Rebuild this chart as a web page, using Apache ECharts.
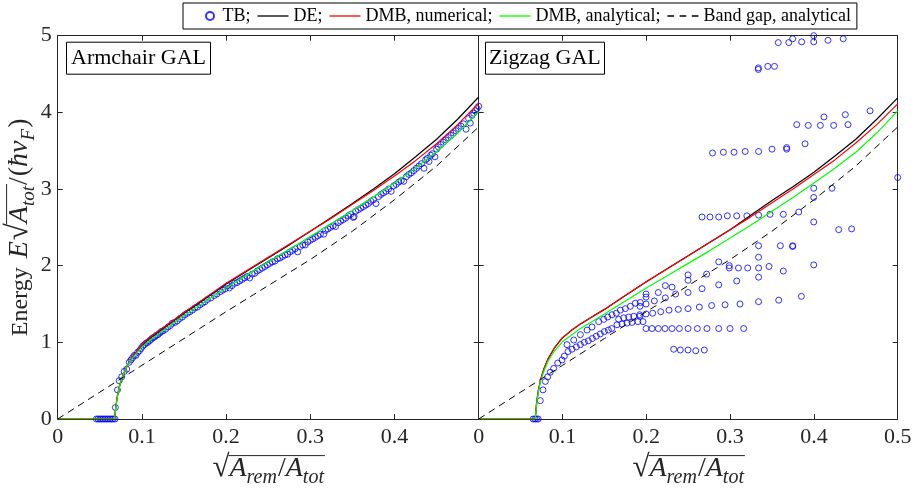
<!DOCTYPE html>
<html><head><meta charset="utf-8">
<script src="https://cdn.jsdelivr.net/npm/echarts@6/dist/echarts.min.js"></script>
<style>html,body{margin:0;padding:0;background:#fff}#c{width:918px;height:491px}</style>
</head><body><div id="c"></div>
<script>
// ---------- data ----------
const xTickLabels = ['0', '0.1', '0.2', '0.3', '0.4', '0.5'];
const yTickLabels = ['0', '1', '2', '3', '4', '5'];

const curveX = [0, 0.0675, 0.069, 0.071, 0.074, 0.078, 0.083, 0.09, 0.1, 0.11, 0.12, 0.135, 0.15, 0.175, 0.2, 0.225, 0.25, 0.275, 0.3, 0.325, 0.35, 0.375, 0.4, 0.425, 0.45, 0.475, 0.5];

// Armchair GAL
const armDE     = [0, 0, 0.15, 0.30, 0.45, 0.58, 0.70, 0.82, 0.96, 1.06, 1.14, 1.26, 1.38, 1.57, 1.76, 1.93, 2.10, 2.27, 2.45, 2.63, 2.81, 3.00, 3.20, 3.42, 3.65, 3.91, 4.20];
const armDMBnum = [0, 0, 0.17, 0.32, 0.46, 0.59, 0.71, 0.83, 0.97, 1.07, 1.15, 1.27, 1.39, 1.58, 1.77, 1.94, 2.11, 2.28, 2.45, 2.62, 2.80, 2.98, 3.17, 3.37, 3.59, 3.84, 4.12];
const armDMBana = [0, 0, 0.15, 0.30, 0.45, 0.58, 0.70, 0.81, 0.94, 1.03, 1.11, 1.23, 1.35, 1.53, 1.71, 1.88, 2.05, 2.21, 2.38, 2.55, 2.72, 2.90, 3.08, 3.27, 3.49, 3.73, 4.01];

// Zigzag GAL
const zigDE     = [0, 0, 0.20, 0.36, 0.52, 0.66, 0.79, 0.92, 1.06, 1.15, 1.23, 1.33, 1.43, 1.61, 1.79, 1.96, 2.13, 2.30, 2.47, 2.66, 2.85, 3.03, 3.22, 3.43, 3.65, 3.91, 4.19];
const zigDMBnum = [0, 0, 0.20, 0.36, 0.52, 0.66, 0.79, 0.92, 1.06, 1.15, 1.23, 1.33, 1.43, 1.61, 1.79, 1.96, 2.13, 2.30, 2.47, 2.64, 2.82, 3.00, 3.19, 3.38, 3.60, 3.84, 4.11];
const zigDMBana = [0, 0, 0.18, 0.34, 0.50, 0.63, 0.76, 0.88, 1.01, 1.09, 1.17, 1.27, 1.37, 1.54, 1.71, 1.87, 2.03, 2.19, 2.36, 2.53, 2.71, 2.89, 3.08, 3.27, 3.48, 3.73, 4.02];

// Band gap, analytical (same in both panels)
const gapX = [0, 0.05, 0.1, 0.15, 0.2, 0.25, 0.3, 0.35, 0.4, 0.45, 0.5];
const gapY = [0, 0.35, 0.70, 1.05, 1.40, 1.74, 2.08, 2.45, 2.86, 3.30, 3.81];

// TB points, armchair
const armTB = [
 [0.046,0],[0.048,0],[0.050,0],[0.052,0],[0.054,0],[0.056,0],[0.058,0],[0.060,0],[0.062,0],[0.064,0],[0.066,0],[0.068,0],
 [0.0685,0.15],[0.071,0.38],[0.073,0.50],[0.076,0.55],[0.079,0.62],[0.082,0.65],[0.085,0.74],[0.087,0.77],[0.089,0.80],[0.091,0.83],
 [0.093,0.83],[0.095,0.87],[0.097,0.89],[0.099,0.92],[0.101,0.95],[0.103,0.97],[0.105,0.99],[0.107,1.00],[0.109,1.02],[0.111,1.04],
 [0.113,1.06],[0.115,1.07],[0.117,1.09],[0.119,1.10],[0.121,1.12],[0.123,1.14],[0.125,1.15],[0.128,1.17],[0.131,1.20],[0.134,1.22],
 [0.136,1.25],[0.139,1.26],[0.142,1.28],[0.145,1.31],[0.148,1.33],[0.151,1.36],[0.154,1.38],[0.157,1.40],[0.160,1.42],[0.163,1.45],
 [0.166,1.46],[0.169,1.49],[0.172,1.51],[0.175,1.53],[0.178,1.56],[0.182,1.58],[0.186,1.61],[0.189,1.63],[0.193,1.66],[0.196,1.68],
 [0.199,1.70],[0.202,1.74],[0.204,1.71],[0.207,1.74],[0.210,1.77],[0.213,1.78],[0.216,1.80],[0.219,1.82],[0.222,1.84],[0.225,1.86],
 [0.228,1.84],[0.231,1.89],[0.234,1.90],[0.237,1.93],[0.240,1.95],[0.243,1.97],[0.246,1.99],[0.249,2.01],[0.252,2.03],[0.255,2.05],
 [0.258,2.06],[0.261,2.09],[0.264,2.10],[0.267,2.12],[0.270,2.14],[0.273,2.15],[0.276,2.18],[0.279,2.20],[0.282,2.22],[0.285,2.18],
 [0.288,2.25],[0.291,2.27],[0.294,2.27],[0.297,2.31],[0.300,2.33],[0.303,2.35],[0.306,2.37],[0.309,2.39],[0.312,2.41],[0.316,2.41],
 [0.318,2.46],[0.321,2.48],[0.324,2.50],[0.327,2.52],[0.330,2.51],[0.333,2.56],[0.336,2.58],[0.339,2.60],[0.342,2.62],[0.345,2.65],
 [0.348,2.67],[0.351,2.63],[0.352,2.64],[0.354,2.71],[0.357,2.73],[0.360,2.75],[0.363,2.77],[0.366,2.79],[0.369,2.81],[0.372,2.84],
 [0.375,2.86],[0.378,2.81],[0.381,2.90],[0.384,2.93],[0.387,2.95],[0.390,2.97],[0.393,3.00],[0.396,2.97],[0.399,3.04],[0.402,3.06],
 [0.405,3.09],[0.408,3.11],[0.411,3.10],[0.414,3.16],[0.417,3.19],[0.420,3.21],[0.423,3.24],[0.426,3.27],[0.429,3.30],[0.432,3.33],
 [0.435,3.27],[0.437,3.38],[0.439,3.40],[0.441,3.36],[0.443,3.44],[0.445,3.46],[0.448,3.42],[0.450,3.52],[0.452,3.55],[0.455,3.58],
 [0.458,3.61],[0.461,3.64],[0.464,3.67],[0.467,3.70],[0.470,3.73],[0.473,3.76],[0.476,3.79],[0.479,3.82],[0.482,3.85],[0.485,3.78],
 [0.488,3.92],[0.490,3.86],[0.492,3.96],[0.494,3.99],[0.496,4.02],[0.498,4.05],[0.500,4.08]
];

// TB points, zigzag
const zigTB = [
 [0.065,0],[0.067,0],[0.069,0],[0.071,0],
 [0.0735,0.24],[0.0767,0.38],[0.0795,0.49],[0.0823,0.55],[0.0854,0.61],[0.0895,0.66],[0.0943,0.73],[0.0994,0.77],[0.1022,0.82],
 [0.1066,0.88],[0.1113,0.91],[0.1165,0.94],[0.1213,0.97],[0.126,1.00],[0.1308,1.02],[0.1356,1.05],[0.1403,1.08],[0.1451,1.11],
 [0.1499,1.14],[0.1547,1.16],[0.1587,1.18],[0.165,1.23],[0.171,1.24],[0.177,1.25],[0.183,1.26],[0.19,1.27],[0.196,1.27],
 [0.1054,0.97],[0.1134,1.03],[0.1213,1.10],[0.1293,1.16],[0.1352,1.20],[0.1432,1.27],[0.1492,1.30],[0.1539,1.33],[0.159,1.36],
 [0.1642,1.38],[0.169,1.42],[0.175,1.44],[0.181,1.47],[0.1869,1.51],[0.1928,1.52],
 [0.167,1.30],[0.173,1.32],[0.179,1.33],[0.185,1.34],[0.192,1.36],[0.1997,1.37],[0.2076,1.38],[0.1925,1.34],
 [0.1997,1.63],[0.1997,1.59],[0.1997,1.50],[0.2096,1.54],[0.1925,1.47],[0.2143,1.65],[0.2227,1.74],[0.2227,1.58],[0.2307,1.72],
 [0.235,1.63],[0.2498,1.88],[0.2498,1.81],[0.2665,1.70],[0.2498,1.65],[0.272,1.89],[0.2864,1.75],[0.3079,1.80],[0.334,1.85],
 [0.2864,2.05],[0.299,2.00],[0.299,1.97],[0.310,1.97],[0.321,1.97],[0.334,1.97],[0.3464,1.99],[0.3635,1.93],[0.334,2.11],
 [0.334,2.26],[0.36,2.26],[0.3747,2.26],[0.3747,2.25],
 [0.2665,2.635],[0.276,2.635],[0.2864,2.635],[0.2967,2.65],[0.3079,2.65],[0.320,2.65],[0.334,2.66],[0.3476,2.67],[0.3635,2.67],[0.3819,2.70],
 [0.3998,3.01],[0.4216,3.01],[0.3998,2.89],[0.3998,2.57],[0.4296,2.47],[0.445,2.48],[0.3998,2.01],
 [0.2172,1.40],[0.2271,1.42],[0.2382,1.43],[0.2498,1.44],[0.2633,1.46],[0.278,1.48],[0.294,1.49],[0.3118,1.50],[0.334,1.53],[0.358,1.55],[0.385,1.60],
 [0.1997,1.18],[0.2068,1.18],[0.2143,1.18],[0.2223,1.18],[0.2307,1.18],[0.2394,1.18],[0.2498,1.18],[0.2609,1.18],[0.2724,1.18],[0.2864,1.18],[0.2999,1.18],[0.3162,1.18],
 [0.2327,0.91],[0.2406,0.90],[0.2498,0.90],[0.259,0.89],[0.2692,0.90],
 [0.279,3.47],[0.292,3.48],[0.3047,3.48],[0.318,3.49],[0.334,3.49],[0.350,3.52],[0.3675,3.52],[0.3675,3.54],[0.3894,3.59],
 [0.3795,3.84],[0.3933,3.83],[0.4077,3.83],[0.4236,3.83],[0.4407,3.84],[0.412,3.94],[0.4375,3.97],[0.467,4.02],
 [0.5,3.15],
 [0.3337,4.58],[0.3337,4.56],[0.345,4.60],[0.353,4.60],
 [0.3575,4.91],[0.370,4.91],[0.3747,4.96],[0.3854,4.92],[0.3998,5.00],[0.3998,4.92],[0.4168,4.94],[0.435,4.96]
];

const panelTitles = ['Armchair GAL', 'Zigzag GAL'];
const seriesNames = ['TB;', 'DE;', 'DMB, numerical;', 'DMB, analytical;', 'Band gap, analytical'];

// ---------- chart ----------
const SERIF = "'Liberation Serif','Times New Roman',serif";
const AX = '#262626';
const zip = (xs, ys) => xs.map((x, i) => [x, ys[i]]);

const grids = [
  { left: 57.7, top: 35.7, width: 421, height: 383.3 },
  { left: 478.7, top: 35.7, width: 419, height: 383.3 }
];

function xAx(g, pos, labels, hideLast) {
  return {
    type: 'value', gridIndex: g, position: pos, min: 0, max: 0.5, interval: 0.1,
    axisLine: { show: true, onZero: false, lineStyle: { color: AX, width: 1 } },
    axisTick: { show: true, inside: true, length: 5, lineStyle: { color: AX } },
    splitLine: { show: false },
    axisLabel: {
      show: labels, margin: 7, color: '#262626', fontFamily: SERIF, fontSize: 22,
      formatter: v => { const k = Math.round(v * 10); return (hideLast && k === 5) ? '' : xTickLabels[k]; }
    }
  };
}
function yAx(g, pos, labels) {
  return {
    type: 'value', gridIndex: g, position: pos, min: 0, max: 5, interval: 1,
    axisLine: { show: true, onZero: false, lineStyle: { color: AX, width: 1 } },
    axisTick: { show: true, inside: true, length: 5, lineStyle: { color: AX } },
    splitLine: { show: false },
    axisLabel: { show: labels, margin: 6, color: '#262626', fontFamily: SERIF, fontSize: 22,
      formatter: v => yTickLabels[Math.round(v)] }
  };
}

function panelSeries(p, tb, de, num, ana) {
  const xi = p * 2, yi = p * 2;
  const line = (name, ys, color) => ({
    name, type: 'line', xAxisIndex: xi, yAxisIndex: yi, data: zip(curveX, ys),
    showSymbol: false, symbol: 'none', lineStyle: { color, width: 1.2 }, itemStyle: { color }, z: 3
  });
  return [
    { name: seriesNames[0], type: 'scatter', xAxisIndex: xi, yAxisIndex: yi, data: tb,
      symbol: 'circle', symbolSize: 6,
      itemStyle: { color: 'rgba(0,0,0,0)', borderColor: '#0000ff', borderWidth: 1 }, z: 2 },
    line(seriesNames[1], de, '#000000'),
    line(seriesNames[2], num, '#ff0000'),
    line(seriesNames[3], ana, '#00ff00'),
    { name: seriesNames[4], type: 'line', xAxisIndex: xi, yAxisIndex: yi, data: zip(gapX, gapY),
      showSymbol: false, symbol: 'none', lineStyle: { color: '#000', width: 1, type: [7, 5] }, itemStyle: { color: '#000' }, z: 3 }
  ];
}

// ---------- math-like axis names (text measured at run time) ----------
const mctx = document.createElement('canvas').getContext('2d');
function fontOf(p) { return (p.it ? 'italic ' : '') + p.f + 'px ' + SERIF; }
function measure(p) { mctx.font = fontOf(p); return mctx.measureText(p.t).width; }
function mathGroup(pieces, cx, cy, rot, barF) {
  const widths = pieces.map(p => measure(p) + (p.gap || 0));
  const W = widths.reduce((a, b) => a + b, 0);
  let u = -W / 2;
  const children = [];
  let barStart = null, barEnd = null;
  pieces.forEach((p, i) => {
    const base = p.sub ? 6 : 0;
    children.push({ type: 'text', x: u, y: base - 0.3375 * p.f, silent: true,
      style: { text: p.t, font: fontOf(p), fill: '#262626', align: 'left', verticalAlign: 'middle' } });
    if (p.bar) { if (barStart === null) barStart = u; barEnd = u + widths[i]; }
    u += widths[i];
  });
  if (barStart !== null) {
    const yb = -0.80 * barF;
    children.push({ type: 'line', silent: true, shape: { x1: barStart - 1, y1: yb, x2: barEnd + 1, y2: yb },
      style: { stroke: '#262626', lineWidth: 1 } });
  }
  return { type: 'group', x: cx, y: cy, rotation: rot, children };
}
const xNamePieces = [
  { t: '√', f: 31 },
  { t: 'A', f: 28, it: 1, bar: 1 }, { t: 'rem', f: 20, it: 1, sub: 1, bar: 1, gap: 1 },
  { t: '/', f: 28, bar: 1 },
  { t: 'A', f: 28, it: 1, bar: 1 }, { t: 'tot', f: 20, it: 1, sub: 1, bar: 1 }
];
const yNamePieces = [
  { t: 'Energy', f: 24, gap: 9 },
  { t: 'E', f: 28, it: 1, gap: 1 }, { t: '√', f: 31 },
  { t: 'A', f: 28, it: 1, bar: 1 }, { t: 'tot', f: 19, it: 1, sub: 1, bar: 1, gap: 1 },
  { t: '/', f: 28, gap: 1 }, { t: '(', f: 28 }, { t: 'ħ', f: 28, it: 1 }, { t: 'v', f: 28, it: 1 },
  { t: 'F', f: 19, it: 1, sub: 1, gap: 1 }, { t: ')', f: 28 }
];

const graphics = [
  mathGroup(xNamePieces, grids[0].left + grids[0].width / 2, 478, 0, 28),
  mathGroup(xNamePieces, grids[1].left + grids[1].width / 2, 478, 0, 28),
  mathGroup(yNamePieces, 29, grids[0].top + grids[0].height / 2, Math.PI / 2, 28)
];

const chart = echarts.init(document.getElementById('c'), null, { renderer: 'canvas' });
chart.setOption({
  animation: false,
  backgroundColor: '#ffffff',
  grid: grids,
  title: [
    { text: panelTitles[0], left: 66, top: 41.7, padding: [4, 5, 4, 5], borderColor: '#000', borderWidth: 1, backgroundColor: '#fff',
      textStyle: { fontFamily: SERIF, fontSize: 22, fontWeight: 'normal', color: '#000', lineHeight: 25 } },
    { text: panelTitles[1], left: 485, top: 41.7, padding: [4, 4, 4, 4], borderColor: '#000', borderWidth: 1, backgroundColor: '#fff',
      textStyle: { fontFamily: SERIF, fontSize: 22, fontWeight: 'normal', color: '#000', lineHeight: 25 } }
  ],
  legend: {
    left: 183, top: 3, padding: [4, 6, 4, 6], itemGap: 7, itemWidth: 31, itemHeight: 8,
    borderColor: '#000', borderWidth: 1, backgroundColor: '#fff', selectedMode: false,
    textStyle: { fontFamily: SERIF, fontSize: 18, color: '#000' },
    data: [
      { name: seriesNames[0], icon: 'path://M0,4 M12,4 A3,3 0 1,0 18,4 A3,3 0 1,0 12,4 Z' },
      { name: seriesNames[1], icon: 'path://M0,0 H31 V1.3 H0 Z' },
      { name: seriesNames[2], icon: 'path://M0,0 H31 V1.3 H0 Z' },
      { name: seriesNames[3], icon: 'path://M0,0 H31 V1.3 H0 Z' },
      { name: seriesNames[4], icon: 'path://M0,0 H6 V1.2 H0 Z M11,0 H17 V1.2 H11 Z M22,0 H28 V1.2 H22 Z' }
    ]
  },
  xAxis: [ xAx(0, 'bottom', true, true), xAx(0, 'top', false, false),
           xAx(1, 'bottom', true, false), xAx(1, 'top', false, false) ],
  yAxis: [ yAx(0, 'left', true), yAx(0, 'right', false),
           yAx(1, 'left', false), yAx(1, 'right', false) ],
  graphic: { elements: graphics },
  series: [].concat(
    panelSeries(0, armTB, armDE, armDMBnum, armDMBana),
    panelSeries(1, zigTB, zigDE, zigDMBnum, zigDMBana)
  )
});
</script>
</body></html>
